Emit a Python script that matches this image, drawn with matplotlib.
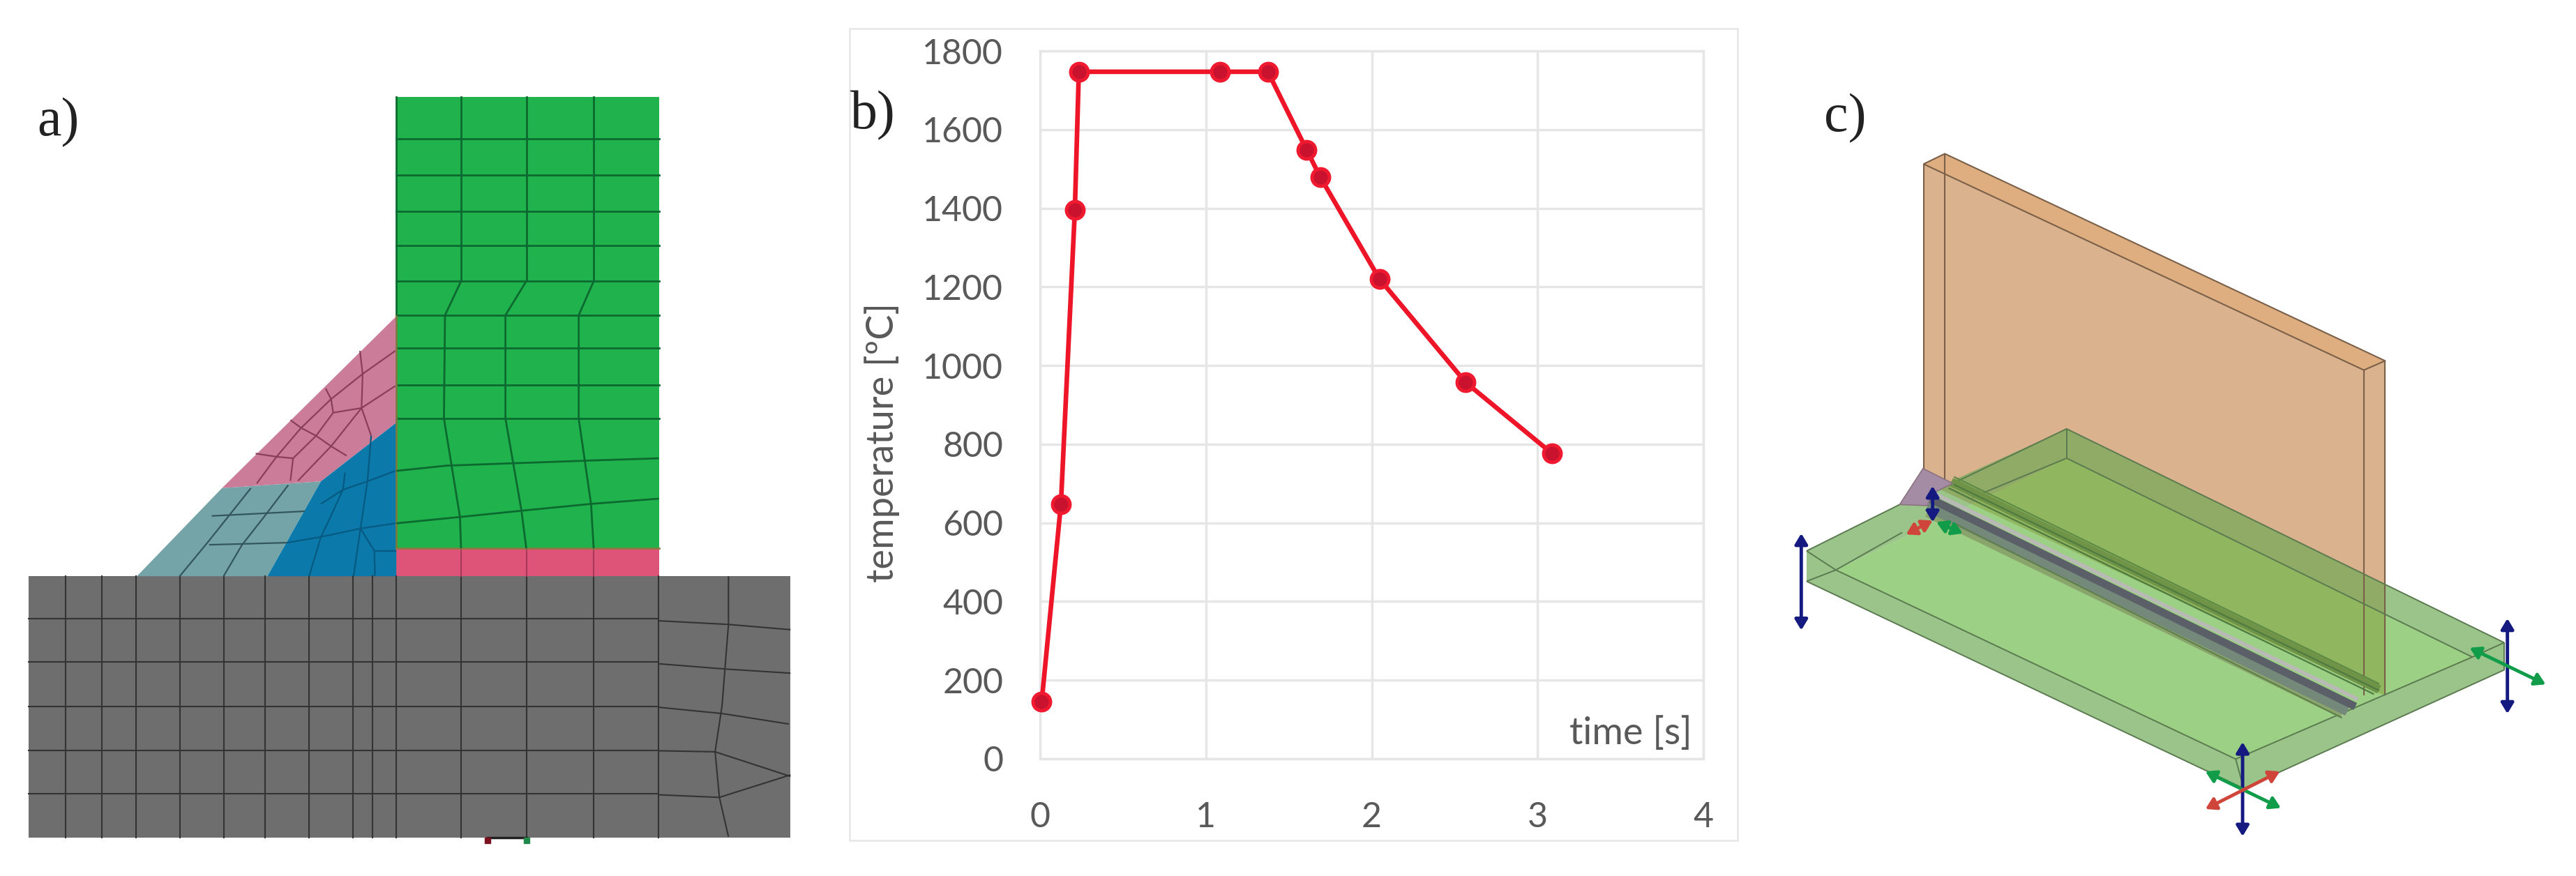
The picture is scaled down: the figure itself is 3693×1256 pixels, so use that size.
import matplotlib
matplotlib.use('Agg')
import matplotlib.pyplot as plt
from matplotlib.patches import Polygon, Rectangle

W, H = 3693, 1256

# panel b values
time_s = [0.01, 0.126, 0.21, 0.234, 1.085, 1.374, 1.608, 1.69, 2.047, 2.567, 3.086]
temp_c = [145, 648, 1395, 1747, 1747, 1747, 1548, 1479, 1220, 957, 777]
x_ticks = [0, 1, 2, 3, 4]
y_ticks = [0, 200, 400, 600, 800, 1000, 1200, 1400, 1600, 1800]

# panel a mesh
gray_v = [122, 190, 254, 336, 418, 495, 578, 660, 697, 741, 862, 984, 1110, 1231]
gray_h = [1074, 1157, 1241, 1326, 1408]
green_h = [158, 228, 297, 362, 430, 495, 558, 628, 692]
green_v = [862, 984, 1110]
mesh_gray = [
    [(1231, 1078), (1362, 1085), (1478, 1095)],
    [(1231, 1160), (1355, 1170), (1478, 1178)],
    [(1231, 1243), (1350, 1255), (1475, 1275)],
    [(1231, 1326), (1337, 1328), (1478, 1375)],
    [(1231, 1410), (1345, 1415), (1478, 1372)],
    [(1362, 993), (1362, 1085), (1350, 1240), (1337, 1328), (1345, 1415), (1362, 1490)],
]
mesh_green = [
    [(862, 430), (832, 495), (830, 692), (860, 880), (862, 940)],
    [(984, 430), (945, 495), (945, 692), (975, 868), (984, 940)],
    [(1110, 430), (1082, 495), (1082, 692), (1105, 855), (1110, 940)],
    [(741, 792), (835, 782), (1110, 772), (1232, 768)],
    [(741, 892), (860, 880), (975, 868), (1105, 855), (1232, 845)],
]
mesh_blue = [
    [(739, 792), (687, 812), (641, 828), (600, 855)],
    [(739, 892), (674, 902), (600, 918), (537, 929)],
    [(694, 725), (687, 812), (674, 902), (661, 993)],
    [(645, 795), (641, 828), (617, 882), (600, 918), (578, 993)],
    [(674, 902), (700, 945), (701, 993)],
    [(700, 945), (741, 945)],
]
mesh_teal = [
    [(396, 878), (570, 869)],
    [(391, 933), (537, 929)],
    [(469, 825), (391, 925), (336, 993)],
    [(539, 819), (495, 878), (452, 934), (418, 993)],
]
mesh_mauve = [
    [(673, 563), (678, 607), (676, 672), (694, 725)],
    [(739, 563), (678, 607), (619, 655), (563, 710), (517, 765), (480, 816)],
    [(739, 630), (676, 672), (623, 681), (591, 725), (548, 768), (543, 811)],
    [(676, 672), (619, 745), (557, 811)],
    [(609, 635), (619, 655), (623, 681)],
    [(543, 695), (563, 710), (591, 725), (619, 745), (648, 763)],
    [(478, 759), (517, 765), (548, 768)],
]

# panel c geometry
plate_outline = [(338, 183), (378, 163), (1206, 565), (1206, 1215), (338, 800)]
plate_top = [(338, 183), (378, 163), (1206, 565), (1166, 583)]
plate_edges = [
    [(338, 183), (1166, 583), (1206, 565), (378, 163), (338, 183)],
    [(378, 163), (378, 800)],
    [(338, 183), (338, 780)],
    [(1166, 583), (1166, 1215)],
    [(1206, 565), (1206, 1215)],
]
base_inner = [(173, 971), (607, 754), (1370, 1140), (925, 1338)]
base_strips = [
    [(118, 934), (293, 844), (607, 697), (607, 754), (173, 971)],
    [(607, 697), (1430, 1112), (1370, 1140), (607, 754)],
    [(1430, 1112), (1430, 1165), (940, 1395), (925, 1338), (1370, 1140)],
    [(940, 1395), (118, 993), (118, 934), (173, 971), (925, 1338)],
]
base_edges = [
    [(118, 934), (173, 971), (925, 1338), (1370, 1140), (1430, 1112)],
    [(118, 993), (173, 971), (298, 898)],
    [(118, 934), (293, 844)],
    [(393, 803), (607, 697), (1430, 1112)],
    [(430, 830), (607, 754), (1370, 1140)],
    [(607, 697), (607, 754)],
    [(118, 993), (940, 1395), (1430, 1165)],
    [(925, 1338), (940, 1395)],
    [(1430, 1112), (1430, 1165)],
]
weld_bands = [
    ([(390, 800), (1195, 1203)], '#6f9448', 9),
    ([(395, 790), (1195, 1192)], '#5f8a45', 1.6),
    ([(395, 805), (1195, 1205)], '#4f7a40', 1.6),
    ([(385, 812), (1185, 1212)], '#4f7a40', 1.6),
    ([(345, 860), (1125, 1250)], '#8aa56c', 9),
    ([(345, 848), (1135, 1245)], '#74897a', 10),
    ([(345, 830), (1150, 1236)], '#5b5f68', 8),
    ([(337, 812), (1155, 1222)], '#b9b9b6', 4),
    ([(395, 880), (1125, 1258)], '#5f7f4a', 1.5),
]
weld_head = [(337, 774), (393, 803), (355, 822), (345, 846), (293, 844)]
arrows_navy = [[(108, 900), (108, 1088)], [(938, 1305), (938, 1488)], [(1436, 1065), (1436, 1250)],
               [(355, 808), (355, 878)]]
arrows_green = [[(868, 1362), (1010, 1433)], [(1365, 1122), (1508, 1193)], [(362, 878), (412, 900)]]
arrows_red = [[(868, 1435), (1008, 1362)], [(305, 902), (355, 875)]]


def panel_axes(x, y, w, h):
    ax = fig.add_axes([x / W, 1 - (y + h) / H, w / W, h / H])
    ax.set_xlim(0, 1565)
    ax.set_ylim(1565, 0)
    ax.axis('off')
    return ax


def lines(ax, paths, color, lw=1.6):
    for p in paths:
        ax.plot([q[0] for q in p], [q[1] for q in p], color=color, lw=lw, solid_capstyle='butt', zorder=3)


fig = plt.figure(figsize=(W / 100, H / 100), dpi=100, facecolor='white')

# a) mesh
ax = panel_axes(0, 80, 1200, 1176)
ax.add_patch(Rectangle((54, 993), 1424, 499, fc='#6e6e6e', ec='none'))
ax.add_patch(Rectangle((741, 78), 491, 862, fc='#20b24c', ec='none'))
ax.add_patch(Rectangle((741, 940), 491, 53, fc='#de5478', ec='none'))
ax.add_patch(Polygon([(741, 497), (741, 700), (600, 812), (415, 825)], fc='#cb7c98', ec='none'))
ax.add_patch(Polygon([(415, 825), (600, 812), (500, 993), (256, 993)], fc='#74a3a8', ec='none'))
ax.add_patch(Polygon([(741, 700), (741, 993), (500, 993), (600, 812)], fc='#0b79a9', ec='none'))
for v in gray_v:
    ax.plot([v, v], [993, 1492], color='#333333', lw=1.5, zorder=3)
for h in gray_h:
    ax.plot([54, 1231], [h, h], color='#333333', lw=1.5, zorder=3)
for h in green_h:
    ax.plot([741, 1232], [h, h], color='#0c6a30', lw=2, zorder=3)
for v in green_v:
    ax.plot([v, v], [78, 430], color='#0c6a30', lw=2, zorder=3)
    ax.plot([v, v], [940, 993], color='#a83a58', lw=1.5, zorder=3)
ax.plot([741, 741], [78, 497], color='#0c6a30', lw=2, zorder=3)
ax.plot([741, 741], [497, 940], color='#7a7a40', lw=2, zorder=3)
ax.plot([741, 1232], [940, 940], color='#8a7a40', lw=2, zorder=3)
lines(ax, mesh_gray, '#333333', 1.5)
lines(ax, mesh_green, '#0c6a30', 2)
lines(ax, mesh_blue, '#075a82', 1.6)
lines(ax, mesh_teal, '#33565c', 1.6)
lines(ax, mesh_mauve, '#8a3f58', 1.6)
ax.plot([912, 985], [1492, 1492], color='#222222', lw=2.5, zorder=3)
ax.plot([912], [1497], 's', color='#7a1020', ms=6, zorder=3)
ax.plot([985], [1497], 's', color='#1f8a4a', ms=6, zorder=3)

# b) thermal cycle
fig.add_artist(Rectangle((1218 / W, 1 - 1205 / H), (2491 - 1218) / W, (1205 - 41) / H, transform=fig.transFigure,
                         fc='white', ec='#e8e8e8', lw=2, zorder=-1))
axb = fig.add_axes([1491 / W, 1 - 1088 / H, (2442 - 1491) / W, (1088 - 73) / H])
axb.plot(time_s, temp_c, color='#ee1528', lw=4.8, marker='o', ms=18, mfc='#c8122e', mec='#f01a30', mew=3.5,
         clip_on=False, zorder=5)
axb.set_xlim(0, 4)
axb.set_ylim(0, 1800)
axb.set_xticks(x_ticks)
axb.set_yticks(y_ticks)
axb.grid(True, color='#e6e6e6', lw=2.5)
axb.set_axisbelow(True)
for s in axb.spines.values():
    s.set_color('#e6e6e6')
    s.set_linewidth(2.5)
axb.tick_params(length=0, labelsize=36, labelcolor='#595959', pad=38)
axb.tick_params(axis='x', pad=44)
for t in axb.get_xticklabels() + axb.get_yticklabels():
    t.set_family('Lato')
axb.text(3.93, 65, 'time [s]', ha='right', va='center', fontsize=39, color='#595959', family='Lato')
fig.text(1265 / W, 1 - 635 / H, 'temperature [ºC]', rotation=90, ha='center', va='center', fontsize=39,
         color='#595959', family='Lato')

# c) welded plates
axc = panel_axes(2500, 100, 1193, 1156)
axc.add_patch(Polygon(plate_outline, fc='#dbb28e', ec='none'))
axc.add_patch(Polygon(plate_top, fc='#deae80', ec='none'))
axc.add_patch(Polygon(base_inner, fc='#6dba4a', alpha=0.68, ec='none', zorder=2))
for strip in base_strips:
    axc.add_patch(Polygon(strip, fc='#6ba852', alpha=0.68, ec='none', zorder=2))
lines(axc, plate_edges, '#7a6048', 1.5)
lines(axc, base_edges, '#5b7a50', 1.4)
for path, color, lw in weld_bands:
    axc.plot([path[0][0], path[1][0]], [path[0][1], path[1][1]], color=color, lw=lw, solid_capstyle='butt', zorder=4)
axc.add_patch(Polygon(weld_head, fc='#a48ca4', ec='#8a7280', lw=1.2, zorder=5))


def arrows(paths, color, lw):
    for p in paths:
        axc.annotate('', xy=p[1], xytext=p[0], zorder=6,
                     arrowprops=dict(arrowstyle='<|-|>,head_length=0.5,head_width=0.3', color=color, lw=lw,
                                     shrinkA=0, shrinkB=0, mutation_scale=18))


arrows(arrows_navy, '#141a80', 3.5)
arrows(arrows_green, '#109c48', 3.5)
arrows(arrows_red, '#d0453a', 3.5)

# panel letters
for label, x, y in [('a)', 83, 176), ('b)', 1251, 166), ('c)', 2645, 170)]:
    fig.text(x / W, 1 - y / H, label, ha='center', va='center', fontsize=56, family='Liberation Serif',
             color='#222222', zorder=10)

fig.savefig('out.png', dpi=100)
